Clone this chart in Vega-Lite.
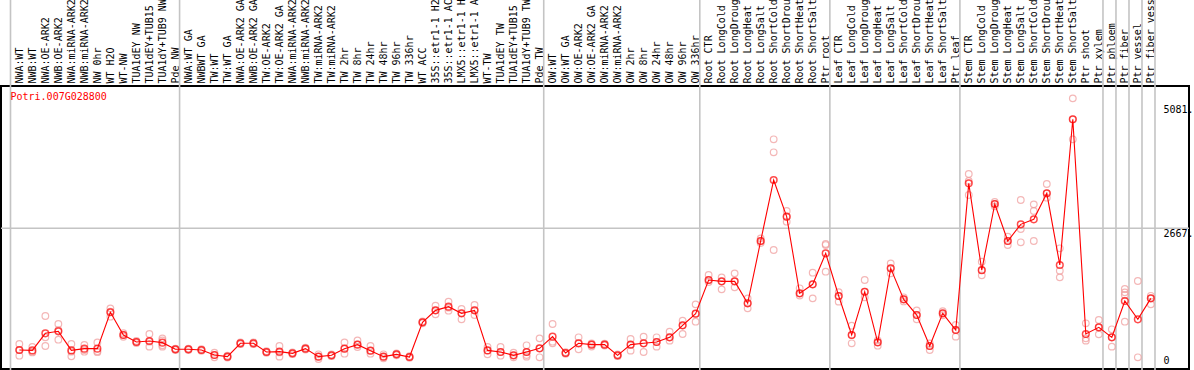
{
  "$schema": "https://vega.github.io/schema/vega-lite/v6.json",
  "width": 1188,
  "height": 283,
  "autosize": {"type": "none"},
  "padding": {"left": 1, "top": 86, "right": 5, "bottom": 1},
  "background": "white",
  "config": {"view": {"stroke": "black", "strokeWidth": 2}, "font": "DejaVu Sans Mono"},
  "datasets": {
    "means": [
      {"cat": "NWA:WT", "value": 293}, {"cat": "NWB:WT", "value": 285}, {"cat": "NWA:OE-ARK2", "value": 618}, {"cat": "NWB:OE-ARK2", "value": 657},
      {"cat": "NWA:miRNA-ARK2", "value": 285}, {"cat": "NWB:miRNA-ARK2", "value": 319}, {"cat": "NW 0hr", "value": 319}, {"cat": "WT H2O", "value": 1028},
      {"cat": "WT-NW", "value": 585}, {"cat": "TUA1dEY NW", "value": 449}, {"cat": "TUA1dEY+TUB15", "value": 468}, {"cat": "TUA1dY+TUB9 NW", "value": 436},
      {"cat": "Pde NW", "value": 306}, {"cat": "NWA:WT GA", "value": 306}, {"cat": "NWBWT GA", "value": 293}, {"cat": "TW:WT", "value": 195},
      {"cat": "TW:WT GA", "value": 163}, {"cat": "NWA:OE-ARK2 GA", "value": 423}, {"cat": "NWB:OE-ARK2 GA", "value": 423}, {"cat": "TW:OE-ARK2", "value": 254},
      {"cat": "TW:OE-ARK2 GA", "value": 260}, {"cat": "NWA:miRNA-ARK2 ", "value": 228}, {"cat": "NWB:miRNA-ARK2 ", "value": 319}, {"cat": "TW:miRNA-ARK2", "value": 163},
      {"cat": "TW:miRNA-ARK2 ", "value": 189}, {"cat": "TW 2hr", "value": 319}, {"cat": "TW 8hr", "value": 397}, {"cat": "TW 24hr", "value": 280},
      {"cat": "TW 48hr", "value": 163}, {"cat": "TW 96hr", "value": 208}, {"cat": "TW 336hr", "value": 156}, {"cat": "WT ACC", "value": 832},
      {"cat": "35S::etr1-1 H2", "value": 1066}, {"cat": "35S::etr1-1 AC", "value": 1138}, {"cat": "LMX5::etr1-1 H", "value": 1008}, {"cat": "LMX5::etr1-1 A", "value": 1066},
      {"cat": "WT-TW", "value": 285}, {"cat": "TUA1dEY TW", "value": 254}, {"cat": "TUA1dEY+TUB15 ", "value": 189}, {"cat": "TUA1dY+TUB9 TW", "value": 254},
      {"cat": "Pde TW", "value": 325}, {"cat": "OW:WT", "value": 553}, {"cat": "OW:WT GA", "value": 234}, {"cat": "OW:OE-ARK2", "value": 423},
      {"cat": "OW:OE-ARK2 GA", "value": 397}, {"cat": "OW:miRNA-ARK2", "value": 397}, {"cat": "OW:miRNA-ARK2 ", "value": 189}, {"cat": "OW 2hr", "value": 397},
      {"cat": "OW 8hr", "value": 423}, {"cat": "OW 24hr", "value": 449}, {"cat": "OW 48hr", "value": 540}, {"cat": "OW 96hr", "value": 774},
      {"cat": "OW 336hr", "value": 1001}, {"cat": "Root CTR", "value": 1658}, {"cat": "Root LongCold", "value": 1632}, {"cat": "Root LongDroug", "value": 1632},
      {"cat": "Root LongHeat", "value": 1203}, {"cat": "Root LongSalt", "value": 2419}, {"cat": "Root ShortCold", "value": 3609}, {"cat": "Root ShortDrou", "value": 2894},
      {"cat": "Root ShortHeat", "value": 1398}, {"cat": "Root ShortSalt", "value": 1574}, {"cat": "Ptr root", "value": 2178}, {"cat": "Leaf CTR", "value": 1346},
      {"cat": "Leaf LongCold", "value": 585}, {"cat": "Leaf LongDroug", "value": 1430}, {"cat": "Leaf LongHeat", "value": 442}, {"cat": "Leaf LongSalt", "value": 1886},
      {"cat": "Leaf ShortCold", "value": 1281}, {"cat": "Leaf ShortDrou", "value": 975}, {"cat": "Leaf ShortHeat", "value": 371}, {"cat": "Leaf ShortSalt", "value": 1008},
      {"cat": "Ptr leaf", "value": 683}, {"cat": "Stem CTR", "value": 3544}, {"cat": "Stem LongCold", "value": 1850}, {"cat": "Stem LongDroug", "value": 3141},
      {"cat": "Stem LongHeat", "value": 2419}, {"cat": "Stem LongSalt", "value": 2744}, {"cat": "Stem ShortCold", "value": 2842}, {"cat": "Stem ShortDrou", "value": 3349},
      {"cat": "Stem ShortHeat", "value": 1951}, {"cat": "Stem ShortSalt", "value": 4793}, {"cat": "Ptr shoot", "value": 605}, {"cat": "Ptr xylem", "value": 735},
      {"cat": "Ptr phloem", "value": 540}, {"cat": "Ptr fiber", "value": 1249}, {"cat": "Ptr vessel", "value": 891}, {"cat": "Ptr fiber vess", "value": 1300}
    ],
    "reps": [
      {"cat": "NWA:WT", "value": 410}, {"cat": "NWA:WT", "value": 182}, {"cat": "NWA:WT", "value": 290},
      {"cat": "NWB:WT", "value": 351}, {"cat": "NWB:WT", "value": 260}, {"cat": "NWB:WT", "value": 245},
      {"cat": "NWA:OE-ARK2", "value": 956}, {"cat": "NWA:OE-ARK2", "value": 540}, {"cat": "NWA:OE-ARK2", "value": 371},
      {"cat": "NWB:OE-ARK2", "value": 800}, {"cat": "NWB:OE-ARK2", "value": 680}, {"cat": "NWB:OE-ARK2", "value": 494},
      {"cat": "NWA:miRNA-ARK2", "value": 410}, {"cat": "NWA:miRNA-ARK2", "value": 260}, {"cat": "NWA:miRNA-ARK2", "value": 169},
      {"cat": "NWB:miRNA-ARK2", "value": 390}, {"cat": "NWB:miRNA-ARK2", "value": 293}, {"cat": "NWB:miRNA-ARK2", "value": 260},
      {"cat": "NW 0hr", "value": 440}, {"cat": "NW 0hr", "value": 270}, {"cat": "NW 0hr", "value": 250},
      {"cat": "WT H2O", "value": 1105}, {"cat": "WT H2O", "value": 1040}, {"cat": "WT H2O", "value": 943},
      {"cat": "WT-NW", "value": 620}, {"cat": "WT-NW", "value": 585}, {"cat": "WT-NW", "value": 550},
      {"cat": "TUA1dEY NW", "value": 470}, {"cat": "TUA1dEY NW", "value": 450}, {"cat": "TUA1dEY NW", "value": 428},
      {"cat": "TUA1dEY+TUB15", "value": 605}, {"cat": "TUA1dEY+TUB15", "value": 455}, {"cat": "TUA1dEY+TUB15", "value": 358},
      {"cat": "TUA1dY+TUB9 NW", "value": 520}, {"cat": "TUA1dY+TUB9 NW", "value": 481}, {"cat": "TUA1dY+TUB9 NW", "value": 385}, {"cat": "TUA1dY+TUB9 NW", "value": 358},
      {"cat": "Pde NW", "value": 320}, {"cat": "Pde NW", "value": 306}, {"cat": "Pde NW", "value": 292},
      {"cat": "NWA:WT GA", "value": 320}, {"cat": "NWA:WT GA", "value": 306}, {"cat": "NWA:WT GA", "value": 292},
      {"cat": "NWBWT GA", "value": 310}, {"cat": "NWBWT GA", "value": 293}, {"cat": "NWBWT GA", "value": 276},
      {"cat": "TW:WT", "value": 241}, {"cat": "TW:WT", "value": 195}, {"cat": "TW:WT", "value": 150},
      {"cat": "TW:WT GA", "value": 180}, {"cat": "TW:WT GA", "value": 163}, {"cat": "TW:WT GA", "value": 146},
      {"cat": "NWA:OE-ARK2 GA", "value": 440}, {"cat": "NWA:OE-ARK2 GA", "value": 423}, {"cat": "NWA:OE-ARK2 GA", "value": 406},
      {"cat": "NWB:OE-ARK2 GA", "value": 440}, {"cat": "NWB:OE-ARK2 GA", "value": 423}, {"cat": "NWB:OE-ARK2 GA", "value": 406},
      {"cat": "TW:OE-ARK2", "value": 270}, {"cat": "TW:OE-ARK2", "value": 254}, {"cat": "TW:OE-ARK2", "value": 238},
      {"cat": "TW:OE-ARK2 GA", "value": 371}, {"cat": "TW:OE-ARK2 GA", "value": 245}, {"cat": "TW:OE-ARK2 GA", "value": 163},
      {"cat": "NWA:miRNA-ARK2 ", "value": 245}, {"cat": "NWA:miRNA-ARK2 ", "value": 228}, {"cat": "NWA:miRNA-ARK2 ", "value": 211},
      {"cat": "NWB:miRNA-ARK2 ", "value": 336}, {"cat": "NWB:miRNA-ARK2 ", "value": 319}, {"cat": "NWB:miRNA-ARK2 ", "value": 302},
      {"cat": "TW:miRNA-ARK2", "value": 208}, {"cat": "TW:miRNA-ARK2", "value": 163}, {"cat": "TW:miRNA-ARK2", "value": 117},
      {"cat": "TW:miRNA-ARK2 ", "value": 205}, {"cat": "TW:miRNA-ARK2 ", "value": 189}, {"cat": "TW:miRNA-ARK2 ", "value": 173},
      {"cat": "TW 2hr", "value": 442}, {"cat": "TW 2hr", "value": 319}, {"cat": "TW 2hr", "value": 221},
      {"cat": "TW 8hr", "value": 481}, {"cat": "TW 8hr", "value": 403}, {"cat": "TW 8hr", "value": 351},
      {"cat": "TW 24hr", "value": 371}, {"cat": "TW 24hr", "value": 280}, {"cat": "TW 24hr", "value": 221},
      {"cat": "TW 48hr", "value": 208}, {"cat": "TW 48hr", "value": 163}, {"cat": "TW 48hr", "value": 130},
      {"cat": "TW 96hr", "value": 225}, {"cat": "TW 96hr", "value": 208}, {"cat": "TW 96hr", "value": 191},
      {"cat": "TW 336hr", "value": 172}, {"cat": "TW 336hr", "value": 156}, {"cat": "TW 336hr", "value": 140},
      {"cat": "WT ACC", "value": 850}, {"cat": "WT ACC", "value": 832}, {"cat": "WT ACC", "value": 814},
      {"cat": "35S::etr1-1 H2", "value": 1157}, {"cat": "35S::etr1-1 H2", "value": 1066}, {"cat": "35S::etr1-1 H2", "value": 988},
      {"cat": "35S::etr1-1 AC", "value": 1236}, {"cat": "35S::etr1-1 AC", "value": 1118}, {"cat": "35S::etr1-1 AC", "value": 1060},
      {"cat": "LMX5::etr1-1 H", "value": 1092}, {"cat": "LMX5::etr1-1 H", "value": 1008}, {"cat": "LMX5::etr1-1 H", "value": 891},
      {"cat": "LMX5::etr1-1 A", "value": 1170}, {"cat": "LMX5::etr1-1 A", "value": 1066}, {"cat": "LMX5::etr1-1 A", "value": 975},
      {"cat": "WT-TW", "value": 351}, {"cat": "WT-TW", "value": 285}, {"cat": "WT-TW", "value": 208},
      {"cat": "TUA1dEY TW", "value": 351}, {"cat": "TUA1dEY TW", "value": 254}, {"cat": "TUA1dEY TW", "value": 182},
      {"cat": "TUA1dEY+TUB15 ", "value": 240}, {"cat": "TUA1dEY+TUB15 ", "value": 189}, {"cat": "TUA1dEY+TUB15 ", "value": 150},
      {"cat": "TUA1dY+TUB9 TW", "value": 384}, {"cat": "TUA1dY+TUB9 TW", "value": 254}, {"cat": "TUA1dY+TUB9 TW", "value": 195}, {"cat": "TUA1dY+TUB9 TW", "value": 163},
      {"cat": "Pde TW", "value": 520}, {"cat": "Pde TW", "value": 325}, {"cat": "Pde TW", "value": 150},
      {"cat": "OW:WT", "value": 800}, {"cat": "OW:WT", "value": 455}, {"cat": "OW:WT", "value": 423},
      {"cat": "OW:WT GA", "value": 250}, {"cat": "OW:WT GA", "value": 234}, {"cat": "OW:WT GA", "value": 218},
      {"cat": "OW:OE-ARK2", "value": 540}, {"cat": "OW:OE-ARK2", "value": 423}, {"cat": "OW:OE-ARK2", "value": 306},
      {"cat": "OW:OE-ARK2 GA", "value": 420}, {"cat": "OW:OE-ARK2 GA", "value": 397}, {"cat": "OW:OE-ARK2 GA", "value": 360},
      {"cat": "OW:miRNA-ARK2", "value": 415}, {"cat": "OW:miRNA-ARK2", "value": 397}, {"cat": "OW:miRNA-ARK2", "value": 380},
      {"cat": "OW:miRNA-ARK2 ", "value": 205}, {"cat": "OW:miRNA-ARK2 ", "value": 189}, {"cat": "OW:miRNA-ARK2 ", "value": 173},
      {"cat": "OW 2hr", "value": 507}, {"cat": "OW 2hr", "value": 397}, {"cat": "OW 2hr", "value": 280},
      {"cat": "OW 8hr", "value": 553}, {"cat": "OW 8hr", "value": 423}, {"cat": "OW 8hr", "value": 254},
      {"cat": "OW 24hr", "value": 540}, {"cat": "OW 24hr", "value": 449}, {"cat": "OW 24hr", "value": 358},
      {"cat": "OW 48hr", "value": 650}, {"cat": "OW 48hr", "value": 540}, {"cat": "OW 48hr", "value": 475},
      {"cat": "OW 96hr", "value": 865}, {"cat": "OW 96hr", "value": 774}, {"cat": "OW 96hr", "value": 605},
      {"cat": "OW 336hr", "value": 1183}, {"cat": "OW 336hr", "value": 1001}, {"cat": "OW 336hr", "value": 845},
      {"cat": "Root CTR", "value": 1756}, {"cat": "Root CTR", "value": 1658}, {"cat": "Root CTR", "value": 1620},
      {"cat": "Root LongCold", "value": 1710}, {"cat": "Root LongCold", "value": 1632}, {"cat": "Root LongCold", "value": 1476},
      {"cat": "Root LongDroug", "value": 1788}, {"cat": "Root LongDroug", "value": 1632}, {"cat": "Root LongDroug", "value": 1515},
      {"cat": "Root LongHeat", "value": 1300}, {"cat": "Root LongHeat", "value": 1203}, {"cat": "Root LongHeat", "value": 1105},
      {"cat": "Root LongSalt", "value": 2470}, {"cat": "Root LongSalt", "value": 2419}, {"cat": "Root LongSalt", "value": 2380},
      {"cat": "Root ShortCold", "value": 4403}, {"cat": "Root ShortCold", "value": 4149}, {"cat": "Root ShortCold", "value": 2243},
      {"cat": "Root ShortDrou", "value": 3004}, {"cat": "Root ShortDrou", "value": 2894}, {"cat": "Root ShortDrou", "value": 2796},
      {"cat": "Root ShortHeat", "value": 1496}, {"cat": "Root ShortHeat", "value": 1398}, {"cat": "Root ShortHeat", "value": 1355},
      {"cat": "Root ShortSalt", "value": 1801}, {"cat": "Root ShortSalt", "value": 1574}, {"cat": "Root ShortSalt", "value": 1300},
      {"cat": "Ptr root", "value": 2360}, {"cat": "Ptr root", "value": 2340}, {"cat": "Ptr root", "value": 1821},
      {"cat": "Leaf CTR", "value": 1420}, {"cat": "Leaf CTR", "value": 1346}, {"cat": "Leaf CTR", "value": 1236},
      {"cat": "Leaf LongCold", "value": 767}, {"cat": "Leaf LongCold", "value": 585}, {"cat": "Leaf LongCold", "value": 423},
      {"cat": "Leaf LongDroug", "value": 1658}, {"cat": "Leaf LongDroug", "value": 1430}, {"cat": "Leaf LongDroug", "value": 1320},
      {"cat": "Leaf LongHeat", "value": 481}, {"cat": "Leaf LongHeat", "value": 440}, {"cat": "Leaf LongHeat", "value": 377},
      {"cat": "Leaf LongSalt", "value": 1983}, {"cat": "Leaf LongSalt", "value": 1886}, {"cat": "Leaf LongSalt", "value": 1790},
      {"cat": "Leaf ShortCold", "value": 1320}, {"cat": "Leaf ShortCold", "value": 1281}, {"cat": "Leaf ShortCold", "value": 1240},
      {"cat": "Leaf ShortDrou", "value": 1066}, {"cat": "Leaf ShortDrou", "value": 975}, {"cat": "Leaf ShortDrou", "value": 891},
      {"cat": "Leaf ShortHeat", "value": 420}, {"cat": "Leaf ShortHeat", "value": 371}, {"cat": "Leaf ShortHeat", "value": 293},
      {"cat": "Leaf ShortSalt", "value": 1050}, {"cat": "Leaf ShortSalt", "value": 1008}, {"cat": "Leaf ShortSalt", "value": 970},
      {"cat": "Ptr leaf", "value": 780}, {"cat": "Ptr leaf", "value": 683}, {"cat": "Ptr leaf", "value": 553},
      {"cat": "Stem CTR", "value": 3726}, {"cat": "Stem CTR", "value": 3590}, {"cat": "Stem CTR", "value": 3316},
      {"cat": "Stem LongCold", "value": 2016}, {"cat": "Stem LongCold", "value": 1850}, {"cat": "Stem LongCold", "value": 1749},
      {"cat": "Stem LongDroug", "value": 3180}, {"cat": "Stem LongDroug", "value": 3141}, {"cat": "Stem LongDroug", "value": 3095},
      {"cat": "Stem LongHeat", "value": 2504}, {"cat": "Stem LongHeat", "value": 2419}, {"cat": "Stem LongHeat", "value": 2341},
      {"cat": "Stem LongSalt", "value": 3219}, {"cat": "Stem LongSalt", "value": 2653}, {"cat": "Stem LongSalt", "value": 2393},
      {"cat": "Stem ShortCold", "value": 3134}, {"cat": "Stem ShortCold", "value": 3004}, {"cat": "Stem ShortCold", "value": 2419},
      {"cat": "Stem ShortDrou", "value": 3531}, {"cat": "Stem ShortDrou", "value": 3349}, {"cat": "Stem ShortDrou", "value": 3264},
      {"cat": "Stem ShortHeat", "value": 2276}, {"cat": "Stem ShortHeat", "value": 1840}, {"cat": "Stem ShortHeat", "value": 1710},
      {"cat": "Stem ShortSalt", "value": 5202}, {"cat": "Stem ShortSalt", "value": 4793}, {"cat": "Stem ShortSalt", "value": 4403},
      {"cat": "Ptr shoot", "value": 813}, {"cat": "Ptr shoot", "value": 520}, {"cat": "Ptr shoot", "value": 475},
      {"cat": "Ptr xylem", "value": 878}, {"cat": "Ptr xylem", "value": 735}, {"cat": "Ptr xylem", "value": 598},
      {"cat": "Ptr phloem", "value": 696}, {"cat": "Ptr phloem", "value": 540}, {"cat": "Ptr phloem", "value": 358},
      {"cat": "Ptr fiber", "value": 1483}, {"cat": "Ptr fiber", "value": 1417}, {"cat": "Ptr fiber", "value": 1366}, {"cat": "Ptr fiber", "value": 845},
      {"cat": "Ptr vessel", "value": 1639}, {"cat": "Ptr vessel", "value": 150},
      {"cat": "Ptr fiber vess", "value": 1350}, {"cat": "Ptr fiber vess", "value": 1300}, {"cat": "Ptr fiber vess", "value": 1183}
    ],
    "seps": [
      {"cat": "NWA:WT"}, {"cat": "NWA:WT GA"}, {"cat": "OW:WT"}, {"cat": "Root CTR"}, {"cat": "Leaf CTR"},
      {"cat": "Stem CTR"}, {"cat": "Ptr phloem"}, {"cat": "Ptr fiber"}, {"cat": "Ptr vessel"}, {"cat": "Ptr fiber vess"}
    ],
    "lastsep": [{"cat": "Ptr fiber vess"}],
    "grid": [{"level": 2667}],
    "gene": [{"name": "Potri.007G028800"}]
  },
  "layer": [
    {
      "data": {"name": "grid"},
      "mark": {"type": "rule", "color": "#c4c4c4", "strokeWidth": 1.6},
      "encoding": {
        "y": {
          "field": "level", "type": "quantitative", "title": null,
          "scale": {"domain": [-78, 5443], "nice": false, "zero": false},
          "axis": {
            "orient": "right", "values": [0, 2667, 5081],
            "labelExpr": "datum.value == 0 ? '0' : datum.value + '.'",
            "ticks": false, "domain": false, "grid": false,
            "labelPadding": -26, "labelAlign": "left",
            "labelBaseline": {"condition": {"test": "datum.value == 0", "value": "bottom"}, "value": "top"},
            "labelFont": "DejaVu Sans Mono", "labelFontSize": 10, "labelColor": "black",
            "labelOverlap": false, "labelFlush": false
          }
        }
      }
    },
    {
      "data": {"name": "seps"},
      "mark": {"type": "rule", "color": "#c4c4c4", "strokeWidth": 1.6, "clip": false},
      "encoding": {
        "x": {
          "field": "cat", "type": "nominal", "bandPosition": 0, "title": null,
          "scale": {
            "type": "band",
            "domain": ["NWA:WT", "NWB:WT", "NWA:OE-ARK2", "NWB:OE-ARK2", "NWA:miRNA-ARK2", "NWB:miRNA-ARK2", "NW 0hr", "WT H2O", "WT-NW", "TUA1dEY NW", "TUA1dEY+TUB15", "TUA1dY+TUB9 NW", "Pde NW", "NWA:WT GA", "NWBWT GA", "TW:WT", "TW:WT GA", "NWA:OE-ARK2 GA", "NWB:OE-ARK2 GA", "TW:OE-ARK2", "TW:OE-ARK2 GA", "NWA:miRNA-ARK2 ", "NWB:miRNA-ARK2 ", "TW:miRNA-ARK2", "TW:miRNA-ARK2 ", "TW 2hr", "TW 8hr", "TW 24hr", "TW 48hr", "TW 96hr", "TW 336hr", "WT ACC", "35S::etr1-1 H2", "35S::etr1-1 AC", "LMX5::etr1-1 H", "LMX5::etr1-1 A", "WT-TW", "TUA1dEY TW", "TUA1dEY+TUB15 ", "TUA1dY+TUB9 TW", "Pde TW", "OW:WT", "OW:WT GA", "OW:OE-ARK2", "OW:OE-ARK2 GA", "OW:miRNA-ARK2", "OW:miRNA-ARK2 ", "OW 2hr", "OW 8hr", "OW 24hr", "OW 48hr", "OW 96hr", "OW 336hr", "Root CTR", "Root LongCold", "Root LongDroug", "Root LongHeat", "Root LongSalt", "Root ShortCold", "Root ShortDrou", "Root ShortHeat", "Root ShortSalt", "Ptr root", "Leaf CTR", "Leaf LongCold", "Leaf LongDroug", "Leaf LongHeat", "Leaf LongSalt", "Leaf ShortCold", "Leaf ShortDrou", "Leaf ShortHeat", "Leaf ShortSalt", "Ptr leaf", "Stem CTR", "Stem LongCold", "Stem LongDroug", "Stem LongHeat", "Stem LongSalt", "Stem ShortCold", "Stem ShortDrou", "Stem ShortHeat", "Stem ShortSalt", "Ptr shoot", "Ptr xylem", "Ptr phloem", "Ptr fiber", "Ptr vessel", "Ptr fiber vess"],
            "range": [9.5, 1154],
            "paddingInner": 0, "paddingOuter": 0
          },
          "axis": {
            "orient": "top", "labelAngle": 270, "ticks": false, "domain": false, "grid": false,
            "labelPadding": 3, "labelFont": "DejaVu Sans Mono", "labelFontSize": 10, "labelColor": "black",
            "labelOverlap": false, "labelLimit": 0, "labelBound": false, "labelOffset": 3
          }
        },
        "y": {"datum": 7400, "type": "quantitative"},
        "y2": {"datum": -300}
      }
    },
    {
      "data": {"name": "lastsep"},
      "mark": {"type": "rule", "color": "#c4c4c4", "strokeWidth": 1.6, "clip": false},
      "encoding": {
        "x": {"field": "cat", "type": "nominal", "bandPosition": 1, "title": null},
        "y": {"datum": 7400, "type": "quantitative"},
        "y2": {"datum": -300}
      }
    },
    {
      "data": {"name": "reps"},
      "mark": {"type": "point", "shape": "circle", "filled": false, "size": 44, "strokeWidth": 1.2, "color": "#f09a9a"},
      "encoding": {
        "x": {"field": "cat", "type": "nominal", "bandPosition": 0.68, "title": null},
        "y": {"field": "value", "type": "quantitative", "title": null}
      }
    },
    {
      "data": {"name": "means"},
      "mark": {"type": "line", "color": "#ff0000", "strokeWidth": 1.1},
      "encoding": {
        "x": {"field": "cat", "type": "nominal", "bandPosition": 0.68, "title": null, "sort": null},
        "y": {"field": "value", "type": "quantitative", "title": null}
      }
    },
    {
      "data": {"name": "means"},
      "mark": {"type": "point", "shape": "circle", "filled": false, "size": 44, "strokeWidth": 1.5, "color": "#ff0000"},
      "encoding": {
        "x": {"field": "cat", "type": "nominal", "bandPosition": 0.68, "title": null},
        "y": {"field": "value", "type": "quantitative", "title": null}
      }
    },
    {
      "data": {"name": "gene"},
      "mark": {"type": "text", "align": "left", "baseline": "middle", "color": "#ff0000", "font": "DejaVu Sans Mono", "fontSize": 10},
      "encoding": {
        "x": {"datum": "NWA:WT", "bandPosition": 0},
        "y": {"datum": 5230, "type": "quantitative"},
        "text": {"field": "name"}
      }
    }
  ]
}
